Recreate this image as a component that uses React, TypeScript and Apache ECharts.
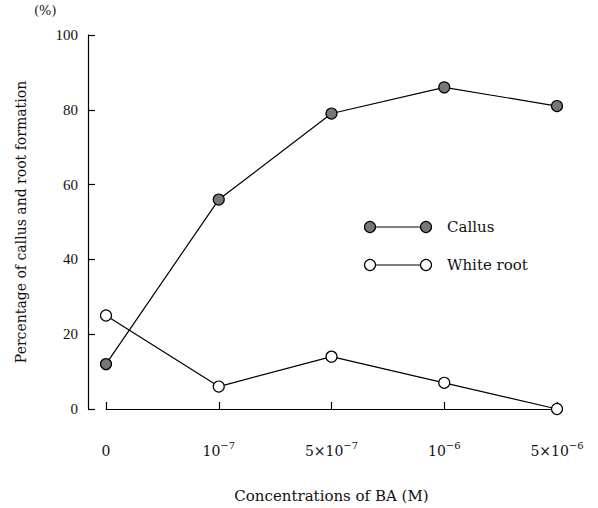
import React, { useEffect, useRef } from "react";
import * as echarts from "echarts";

const categories = ["0", "10^-7", "5×10^-7", "10^-6", "5×10^-6"];
const callus = [12, 56, 79, 86, 81];
const whiteRoot = [25, 6, 14, 7, 0];
const yTicks = [0, 20, 40, 60, 80, 100];

const FONT = "'Liberation Serif', 'DejaVu Serif', serif";
const WIDE = "'DejaVu Serif', 'Liberation Serif', serif";

function fmtCat(c: string) {
  const i = c.indexOf("^");
  if (i < 0) return "{b|" + c + "}";
  return "{b|" + c.slice(0, i) + "}{s|" + c.slice(i + 1).replace("-", "−") + "}";
}

export default function App() {
  const ref = useRef<HTMLDivElement>(null);
  useEffect(() => {
    document.body.style.margin = "0";
    if (!ref.current) return;
    const chart = echarts.init(ref.current, undefined, { renderer: "svg" });
    const legendItem = (y: number, fill: string, label: string) => ({
      type: "group",
      children: [
        { type: "line", shape: { x1: 370, y1: y, x2: 426, y2: y }, style: { stroke: "#000", lineWidth: 1.2 } },
        { type: "circle", shape: { cx: 370, cy: y, r: 5.5 }, style: { fill, stroke: "#000", lineWidth: 1.2 } },
        { type: "circle", shape: { cx: 426, cy: y, r: 5.5 }, style: { fill, stroke: "#000", lineWidth: 1.2 } },
        { type: "text", x: 447, y, style: { text: label, fontFamily: WIDE, fontSize: 15, fill: "#111", verticalAlign: "middle" } },
      ],
    });
    chart.setOption({
      animation: false,
      backgroundColor: "#fff",
      textStyle: { fontFamily: FONT },
      grid: { left: 106, right: 41, top: 35, bottom: 95 },
      xAxis: {
        type: "category",
        data: categories,
        boundaryGap: false,
        offset: 19,
        axisLine: { lineStyle: { color: "#000", width: 1.2 } },
        axisTick: { inside: true, length: 7, interval: 0, alignWithLabel: true, lineStyle: { color: "#000", width: 1.2 } },
        axisLabel: {
          color: "#111",
          fontFamily: WIDE,
          margin: 12,
          interval: 0,
          hideOverlap: false,
          formatter: (v: string) => fmtCat(v),
          rich: {
            b: { fontSize: 14, fontFamily: WIDE, color: "#111", verticalAlign: "bottom", lineHeight: 18 },
            s: { fontSize: 10, fontFamily: WIDE, color: "#111", verticalAlign: "top", lineHeight: 18 },
          },
        },
        name: "Concentrations of BA (M)",
        nameLocation: "middle",
        nameGap: 60,
        nameTextStyle: { color: "#111", fontSize: 15, fontFamily: WIDE },
        splitLine: { show: false },
      },
      yAxis: {
        type: "value",
        min: 0,
        max: 100,
        interval: 20,
        offset: 18,
        axisLine: { show: true, lineStyle: { color: "#000", width: 1.2 } },
        axisTick: { show: true, inside: true, length: 7, lineStyle: { color: "#000", width: 1.2 } },
        axisLabel: {
          color: "#111",
          fontSize: 15,
          fontFamily: FONT,
          margin: 10,
          formatter: (v: number) => (yTicks.includes(v) ? String(v) : ""),
        },
        splitLine: { show: false },
        name: "Percentage of callus and root formation",
        nameLocation: "middle",
        nameGap: 60,
        nameRotate: 90,
        nameTextStyle: { color: "#111", fontSize: 14, fontFamily: WIDE },
      },
      series: [
        {
          name: "Callus",
          type: "line",
          data: callus,
          symbol: "circle",
          symbolSize: 11,
          lineStyle: { color: "#000", width: 1.2 },
          itemStyle: { color: "#777", borderColor: "#000", borderWidth: 1.2 },
          z: 3,
        },
        {
          name: "White root",
          type: "line",
          data: whiteRoot,
          symbol: "circle",
          symbolSize: 11,
          lineStyle: { color: "#000", width: 1.2 },
          itemStyle: { color: "#fff", borderColor: "#000", borderWidth: 1.2 },
          z: 2,
        },
      ],
      graphic: [
        { type: "text", x: 34, y: 4, style: { text: "(%)", fontFamily: WIDE, fontSize: 13, fill: "#111" } },
        legendItem(227, "#777", "Callus"),
        legendItem(265, "#fff", "White root"),
      ],
    });
    return () => chart.dispose();
  }, []);
  return <div ref={ref} style={{ width: 598, height: 508 }} />;
}
